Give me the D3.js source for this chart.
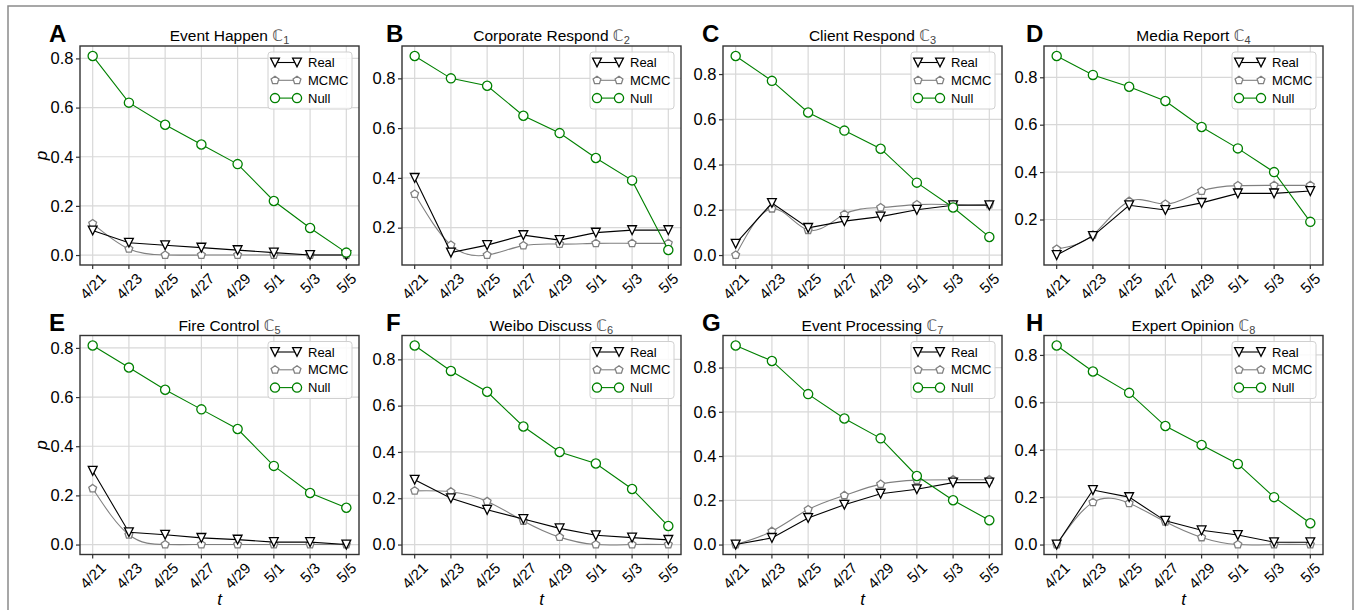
<!DOCTYPE html>
<html>
<head>
<meta charset="utf-8">
<script src="https://cdn.jsdelivr.net/npm/d3@7"></script>
<style>
  html, body { margin: 0; padding: 0; background: #fff; }
  svg { display: block; }
  text { font-family: "Liberation Sans", Arial, sans-serif; }
</style>
</head>
<body>
<svg id="chart" width="1356" height="610"></svg>
<script>
// ---------------- data ----------------
const dates = ["4/21", "4/23", "4/25", "4/27", "4/29", "5/1", "5/3", "5/5"];
const panelLetters = ["A", "B", "C", "D", "E", "F", "G", "H"];
const panelTitles = ["Event Happen", "Corporate Respond", "Client Respond", "Media Report",
                     "Fire Control", "Weibo Discuss", "Event Processing", "Expert Opinion"];
const seriesNames = ["Real", "MCMC", "Null"];

const realValues = [
  [0.10, 0.05, 0.04, 0.03, 0.02, 0.01, 0.00, 0.00],
  [0.40, 0.10, 0.13, 0.17, 0.15, 0.18, 0.19, 0.19],
  [0.05, 0.23, 0.12, 0.15, 0.17, 0.20, 0.22, 0.22],
  [0.05, 0.13, 0.26, 0.24, 0.27, 0.31, 0.31, 0.32],
  [0.30, 0.05, 0.04, 0.027, 0.02, 0.01, 0.01, 0.00],
  [0.28, 0.20, 0.15, 0.11, 0.07, 0.04, 0.03, 0.02],
  [0.00, 0.03, 0.12, 0.18, 0.23, 0.25, 0.28, 0.28],
  [0.00, 0.23, 0.20, 0.10, 0.06, 0.04, 0.01, 0.01]
];
const mcmcValues = [
  [0.128, 0.025, 0.00, 0.00, 0.00, 0.00, 0.00, 0.00],
  [0.335, 0.13, 0.09, 0.128, 0.134, 0.137, 0.137, 0.137],
  [0.00, 0.205, 0.11, 0.18, 0.21, 0.223, 0.223, 0.223],
  [0.075, 0.135, 0.277, 0.265, 0.32, 0.343, 0.344, 0.344],
  [0.228, 0.04, 0.00, 0.00, 0.00, 0.00, 0.00, 0.00],
  [0.232, 0.228, 0.186, 0.102, 0.032, 0.00, 0.00, 0.00],
  [0.00, 0.06, 0.158, 0.222, 0.273, 0.291, 0.293, 0.293],
  [0.00, 0.178, 0.174, 0.096, 0.03, 0.00, 0.00, 0.00]
];
const nullValues = [
  [0.81, 0.62, 0.53, 0.45, 0.37, 0.22, 0.11, 0.01],
  [0.89, 0.80, 0.77, 0.65, 0.58, 0.48, 0.39, 0.11],
  [0.88, 0.77, 0.63, 0.55, 0.47, 0.32, 0.21, 0.08],
  [0.89, 0.81, 0.76, 0.70, 0.59, 0.50, 0.40, 0.19],
  [0.81, 0.72, 0.63, 0.55, 0.47, 0.32, 0.21, 0.15],
  [0.86, 0.75, 0.66, 0.51, 0.40, 0.35, 0.24, 0.08],
  [0.90, 0.83, 0.68, 0.57, 0.48, 0.31, 0.20, 0.11],
  [0.84, 0.73, 0.64, 0.50, 0.42, 0.34, 0.20, 0.09]
];

// ---------------- layout / style ----------------
const colLeft = [80, 402, 723, 1044];
const rowTop = [46, 335.5];
const axW = 279, axH = 219;
const letterX = [49, 386, 702, 1026];
const colors = { Real: "#000000", MCMC: "#808080", Null: "#008000" };
const gridColor = "#d8d8d8";
const spineColor = "#333";

const svg = d3.select("#chart");

// outer frame
svg.append("rect").attr("x", 8).attr("y", 6).attr("width", 1345).attr("height", 640)
  .attr("fill", "none").attr("stroke", "#8a8a8a").attr("stroke-width", 1.5);

function markerPath(name) {
  if (name === "Real") return "M-4.4,-4.4L4.4,-4.4L0,4.4Z";
  if (name === "MCMC") {
    const r = 4.1;
    const pts = d3.range(5).map(i => {
      const a = -Math.PI / 2 + i * 2 * Math.PI / 5;
      return [r * Math.cos(a), r * Math.sin(a)];
    });
    return "M" + pts.map(p => p.join(",")).join("L") + "Z";
  }
  return d3.symbol().type(d3.symbolCircle).size(Math.PI * 4.6 * 4.6)();
}

panelLetters.forEach((letter, pi) => {
  const col = pi % 4, row = Math.floor(pi / 4);
  const x0 = colLeft[col], y0 = rowTop[row];
  const g = svg.append("g").attr("transform", `translate(${x0},${y0})`);

  const series = [
    { name: "MCMC", values: mcmcValues[pi], curve: d3.curveNatural },
    { name: "Real", values: realValues[pi], curve: d3.curveLinear },
    { name: "Null", values: nullValues[pi], curve: d3.curveLinear }
  ];
  const all = series.flatMap(s => s.values);
  const ymin = d3.min(all), ymax = d3.max(all);
  const ypad = (ymax - ymin) * 0.05;
  const n = dates.length;
  const xpad = (n - 1) * 0.05;

  const x = d3.scaleLinear().domain([-xpad, n - 1 + xpad]).range([0, axW]);
  const y = d3.scaleLinear().domain([ymin - ypad, ymax + ypad]).range([axH, 0]);
  const yTicks = y.ticks(5);

  // grid
  const grid = g.append("g");
  dates.forEach((d, i) => {
    grid.append("line").attr("x1", x(i)).attr("x2", x(i)).attr("y1", 0).attr("y2", axH)
      .attr("stroke", gridColor).attr("stroke-width", 1.2);
  });
  yTicks.forEach(t => {
    grid.append("line").attr("x1", 0).attr("x2", axW).attr("y1", y(t)).attr("y2", y(t))
      .attr("stroke", gridColor).attr("stroke-width", 1.2);
  });

  // series
  series.forEach(s => {
    const line = d3.line().x((d, i) => x(i)).y(d => y(d)).curve(s.curve);
    g.append("path").attr("d", line(s.values)).attr("fill", "none")
      .attr("stroke", colors[s.name]).attr("stroke-width", 1.1);
    g.selectAll(null).data(s.values).enter().append("path")
      .attr("d", markerPath(s.name))
      .attr("transform", (d, i) => `translate(${x(i)},${y(d)})`)
      .attr("fill", "#fff").attr("stroke", colors[s.name]).attr("stroke-width", 1.3);
  });

  // axes (spines)
  g.append("rect").attr("x", 0).attr("y", 0).attr("width", axW).attr("height", axH)
    .attr("fill", "none").attr("stroke", spineColor).attr("stroke-width", 1.4);

  const yAxis = d3.axisLeft(y).tickValues(yTicks).tickFormat(d3.format(".1f"))
    .tickSize(4).tickPadding(2.5);
  const ya = g.append("g").call(yAxis);
  ya.select(".domain").remove();
  ya.selectAll(".tick line").attr("stroke", spineColor).attr("stroke-width", 1.2);
  ya.selectAll(".tick text").attr("font-size", 16.5).attr("fill", "#000")
    .attr("font-family", "'Liberation Sans', Arial, sans-serif");

  // x ticks
  const xa = g.append("g").attr("transform", `translate(0,${axH})`);
  const xfs = 15;
  dates.forEach((d, i) => {
    xa.append("line").attr("x1", x(i)).attr("x2", x(i)).attr("y1", 0).attr("y2", 4)
      .attr("stroke", spineColor).attr("stroke-width", 1.2);
    const t = xa.append("text").text(d).attr("font-size", xfs).attr("fill", "#000")
      .attr("text-anchor", "middle");
    const w = t.node().getComputedTextLength();
    const capH = xfs * 0.716;
    const half = (w + capH) / (2 * Math.SQRT2);
    t.attr("dy", (capH / 2) + "px")
      .attr("transform", `translate(${x(i)},${7 + half}) rotate(-45)`);
  });

  // title
  const title = g.append("text").attr("x", axW / 2 + 10).attr("y", -5)
    .attr("text-anchor", "middle").attr("font-size", 15.5).attr("fill", "#000");
  title.append("tspan").text(panelTitles[pi] + " ");
  title.append("tspan").text("ℂ").attr("font-family", "'DejaVu Sans', sans-serif")
    .attr("fill", "#555");
  title.append("tspan").text(String(pi + 1)).attr("font-size", 11).attr("dy", 3)
    .attr("fill", "#444");

  // panel letter
  svg.append("text").attr("x", letterX[col]).attr("y", y0 - 4.5)
    .attr("font-size", 24).attr("font-weight", "bold").attr("fill", "#000").text(letter);

  // axis labels
  if (col === 0) {
    svg.append("text").attr("transform", `translate(${47},${y0 + axH / 2}) rotate(-90)`)
      .attr("text-anchor", "middle").attr("font-size", 17).attr("font-style", "italic")
      .attr("font-family", "'DejaVu Sans', sans-serif").text("p");
  }
  if (row === 1) {
    svg.append("text").attr("x", x0 + axW / 2).attr("y", y0 + axH + 50)
      .attr("text-anchor", "middle").attr("font-size", 17).attr("font-style", "italic")
      .attr("font-family", "'DejaVu Sans', sans-serif").text("t");
  }

  // legend
  const lw = 84, lh = 57;
  const lg = g.append("g").attr("transform", `translate(${axW - 7 - lw},6)`);
  lg.append("rect").attr("width", lw).attr("height", lh).attr("rx", 3)
    .attr("fill", "#fff").attr("fill-opacity", 0.85).attr("stroke", "#d0d0d0").attr("stroke-width", 1);
  seriesNames.forEach((name, k) => {
    const cy = 10.5 + k * 17.8;
    lg.append("line").attr("x1", 7).attr("x2", 29).attr("y1", cy).attr("y2", cy)
      .attr("stroke", colors[name]).attr("stroke-width", 1.1);
    [7, 29].forEach(cx => {
      lg.append("path").attr("d", markerPath(name)).attr("transform", `translate(${cx},${cy})`)
        .attr("fill", "#fff").attr("stroke", colors[name]).attr("stroke-width", 1.3);
    });
    lg.append("text").attr("x", 40).attr("y", cy).attr("dy", "0.36em")
      .attr("font-size", 13).attr("fill", "#000").text(name);
  });
});
</script>
</body>
</html>
